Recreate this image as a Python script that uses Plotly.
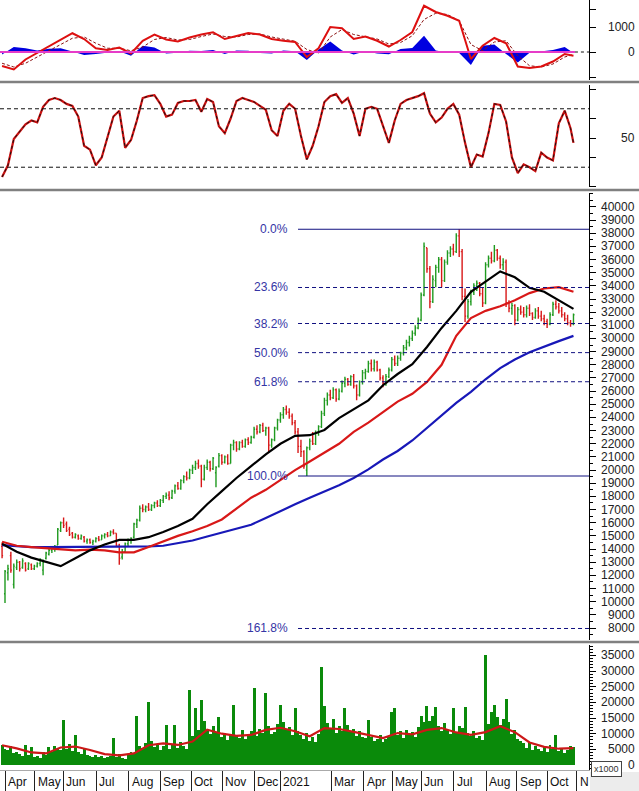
import plotly.graph_objects as go

# ---------------- data ----------------
month_labels = ["Apr", "May", "Jun", "Jul", "Aug", "Sep", "Oct", "Nov", "Dec", "2021",
                "Mar", "Apr", "May", "Jun", "Jul", "Aug", "Sep", "Oct", "N"]
month_start_bar = [1.0, 11.2, 20.8, 32.1, 43.3, 53.9, 64.5, 75.1, 86.0, 94.9,
                   112.3, 123.5, 133.1, 143.0, 154.2, 165.2, 175.7, 186.0, 196.2]

opens = [14200,10600,12200,13500,11300,12600,13000,12600,12900,12500,
         12800,12500,12700,12900,12400,13300,13600,13900,14100,14300,
         15400,16000,15900,15500,15200,14900,15000,14800,14900,14600,
         14700,14500,14600,14800,14700,15000,15100,15000,15300,15200,
         14300,13400,13800,14400,14700,14900,15900,16200,17100,17000,
         17200,17000,17300,17500,17300,17700,18000,18100,17900,18400,
         18800,18600,19200,19500,19400,20000,20200,20500,20300,19300,
         20200,20600,20100,19800,20300,21100,20600,21000,20500,21900,
         22100,21600,22100,21800,22300,22100,22500,23100,22900,23400,
         23000,23200,21900,22300,23200,23800,24200,24600,24400,24100,
         23600,22900,21800,21400,20000,21700,22200,22000,22800,23300,
         24300,25300,25700,25500,26100,25400,26000,26600,26900,26500,
         27100,26400,25700,26700,27400,27500,28100,27700,28200,27600,
         27000,26600,27100,27600,28400,28100,28500,28900,29300,29700,
         30000,30400,30800,31400,33300,36900,35300,32800,34400,35400,
         36000,34400,35800,36500,36800,36600,37800,36600,33200,31700,
         32800,33500,34000,34200,33400,32700,35600,36100,35900,36700,
         36100,35600,35800,32700,32300,32500,31400,32200,32000,31800,
         32300,31900,31600,32100,31700,31500,31300,31100,31800,32600,
         32400,32100,31800,31500,31200,31100]
highs = [14500,12400,12800,13800,12900,13200,13100,13300,13000,13000,
         12900,12800,13000,13300,13200,13800,14100,14200,14300,15600,
         16100,16400,16100,15700,15300,15200,15100,15100,15000,14800,
         14800,14700,14900,15000,15100,15200,15300,15400,15500,15200,
         14400,14000,14500,14800,14900,16000,16300,17300,17400,17300,
         17500,17400,17600,17700,17800,18100,18300,18400,18500,18900,
         19100,19300,19600,19900,20100,20400,20700,20800,20400,20400,
         20800,20700,21000,20300,21300,21200,21100,21200,22000,22300,
         22200,22200,22300,22400,22500,22600,23300,23400,23500,23600,
         23300,23300,22400,23300,23900,24400,24800,24900,24700,24300,
         23800,23200,22300,21500,21800,22400,22900,23000,23400,24500,
         25500,25900,26100,26300,26200,26200,26800,27100,27000,27200,
         27300,26500,26800,27600,27700,28300,28400,28400,28300,27700,
         27200,27300,27800,28600,28700,28700,29000,29500,29900,30200,
         30600,31000,31600,33500,37300,36900,35500,34800,35600,36200,
         36200,36000,36700,37000,37200,38000,38300,36800,33800,33000,
         33700,34200,34400,34300,33900,35800,36300,36600,37100,36800,
         36300,36100,36000,32900,32700,32600,32400,32500,32400,32500,
         32600,32000,32300,32400,32100,31800,31500,32000,32800,32900,
         32700,32400,32000,31800,31400,31900]
lows = [13300,9900,11600,12200,11000,12400,12300,12500,12300,12400,
        12400,12400,12600,12700,12000,13200,13500,13700,13800,14300,
        15300,15600,15300,15000,14800,14800,14700,14700,14500,14400,
        14400,14300,14500,14600,14700,14800,14900,15000,15100,14200,
        12800,13200,13700,14200,14400,14800,15600,16100,16800,16800,
        16900,16900,17100,17200,17200,17500,17800,17700,17800,18200,
        18500,18500,19000,19200,19300,19700,20000,20100,18700,19200,
        20000,19900,20000,18700,20200,20400,20500,20400,20500,21500,
        21400,21500,21700,21700,21900,22000,22400,22700,22800,22900,
        22600,21300,21700,22200,23000,23600,23900,24200,23900,23400,
        22700,21300,21000,20100,19550,21500,21900,21900,22600,23200,
        24100,24900,25300,25400,25200,25300,25900,26300,26400,26400,
        26200,25300,25600,26500,26900,27400,27500,27500,27500,26800,
        26300,26400,27000,27500,27900,27900,28300,28700,29100,29400,
        29800,30200,30700,31300,33200,35000,32300,32700,33900,35000,
        33900,34300,35600,36200,36300,36500,36200,32900,31250,31500,
        32500,33300,33600,33200,32400,32600,35400,35700,35800,35900,
        35300,35200,32400,32000,31800,31000,31300,31800,31600,31600,
        31700,31400,31500,31500,31300,31000,30800,31000,31700,32200,
        31900,31600,31300,31000,30900,31000]
closes = [13500,12300,12500,12400,12700,13000,12500,13100,12400,12900,
          12500,12700,12900,13200,13000,13700,13900,14100,14200,15500,
          16000,15800,15400,15100,14900,15100,14800,15000,14600,14700,
          14500,14600,14800,14700,15000,15100,15000,15300,15200,14300,
          13300,13800,14400,14700,14800,15900,16200,17100,17000,17200,
          17000,17300,17500,17300,17700,18000,18100,17900,18400,18800,
          18600,19200,19500,19400,20000,20200,20500,20300,19300,20200,
          20600,20100,20900,20200,21100,20600,21000,20500,21900,22100,
          21600,22100,21800,22300,22100,22500,23100,22900,23400,23000,
          23200,21900,22300,23200,23800,24200,24600,24400,24100,23600,
          22900,21800,21400,20300,21700,22200,22000,22800,23300,24300,
          25300,25700,25500,26100,25400,26000,26600,26900,26500,27100,
          26400,25700,26700,27400,27500,28100,27700,28200,27600,27000,
          26600,27100,27600,28400,28100,28500,28900,29300,29700,30000,
          30400,30800,31400,33300,37000,35300,32800,34500,35400,36000,
          34400,35800,36500,36800,36600,37800,36600,33200,31700,32800,
          33500,34000,34200,33400,32700,35600,36100,35900,36700,36100,
          35600,35800,32700,32300,32500,31400,32200,32000,31800,32300,
          31900,31600,32100,31700,31500,31300,31100,31800,32600,32400,
          32100,31800,31500,31200,31100,31800]
volume = [6500,5200,4800,6000,3800,4200,3500,2800,6400,3200,
          5600,2500,3000,2200,4100,3300,5600,4000,6200,5100,
          4800,14400,5200,6800,4500,9600,4200,3600,5100,3300,
          2900,2600,3100,2400,2800,2100,2500,3000,8600,2700,
          3500,2300,2000,3300,4200,3800,15500,6200,5400,7100,
          20100,7800,5900,6600,4800,6200,12800,5100,6300,12800,
          5400,7200,6000,5200,24000,9400,18200,11200,20800,14200,
          11000,9800,12500,10400,15300,8800,10200,7900,9600,19200,
          9400,8500,11200,8200,9900,10800,24600,9200,11500,10100,
          23000,12400,9800,10600,13200,19200,13800,11500,12200,9600,
          18200,11000,9500,8400,10300,7600,8800,7200,9800,31300,
          18900,13500,11800,14600,10200,12500,11000,18200,12800,10400,
          11600,9200,10800,9000,8600,14400,9100,7800,8300,9600,
          7400,8200,9000,16900,18200,9500,10800,8700,11300,9800,
          10400,8900,12000,15800,13800,18900,14200,15600,18500,12600,
          10800,13500,11200,9800,18200,10600,12400,11800,18500,10200,
          9400,11000,8600,9200,8100,35100,13200,16800,19200,15400,
          12800,14600,21100,13600,9800,11200,8400,7600,6900,5400,
          7200,4800,6200,5100,4600,5800,4200,6400,5000,9600,
          4600,5400,3900,4800,6100,5600]

# moving averages, read every 5 bars
ma_bars = list(range(0, 196, 5))
ma_black = [14400,13800,13350,13000,12700,13300,13900,14350,14700,14700,
            14900,15300,15750,16300,17400,18400,19400,20300,21200,22000,
            22600,22650,23050,23950,24600,25300,26450,27300,28050,29350,
            30800,32100,33550,34350,35100,34650,33850,33550,32900,32250]
ma_red = [14550,14250,14150,14050,13950,13900,13950,13900,13750,13750,
          14150,14600,15000,15350,15750,16250,17100,17900,18500,19250,
          20000,20650,21350,22000,22900,23600,24400,25200,25800,26700,
          28000,30200,31550,32100,32450,32900,33450,33800,33900,33550]
ma_blue = [14300,14200,14150,14150,14150,14150,14150,14150,14150,14150,
           14200,14250,14450,14650,14950,15250,15550,15850,16350,16900,
           17400,17900,18350,18850,19400,20050,20800,21450,22250,23200,
           24150,25100,25950,26900,27750,28400,28950,29400,29800,30200]
vol_ma = [6300,5300,4000,3700,5600,5900,4800,3500,3100,3700,
          6300,6900,6400,7500,11300,10000,9300,9600,11200,11900,
          10800,9200,11800,11500,10600,9500,8600,10200,9800,11200,
          11800,10400,9600,10500,12400,10500,7200,5800,5200,5400]

# MACD panel, read every 4 bars
macd_bars = list(range(0, 196, 4)) + [195]
macd = [-560,-700,-300,-40,200,480,750,520,150,80,
        180,-60,450,700,500,420,580,700,790,520,
        650,760,700,520,450,400,-200,150,1000,950,
        520,620,450,220,480,800,1850,1600,1450,1250,
        -280,250,560,350,-580,-640,-580,-380,-80,-150]
macd_signal = [-450,-600,-450,-200,50,300,550,600,350,150,
               150,50,200,500,580,480,500,620,720,620,
               600,700,720,600,500,430,100,-50,600,900,
               700,600,520,320,380,650,1300,1550,1500,1250,
               300,50,400,450,-150,-550,-600,-480,-200,-100]
macd_hist = [-100,200,150,60,130,150,20,-120,-80,-20,
             30,-150,250,180,-60,-30,50,40,80,-80,
             60,50,-40,-60,60,30,-320,100,420,60,
             -100,30,-60,-90,120,160,650,60,-20,-40,
             -520,250,300,-80,-420,-30,40,80,200,-40]

# stochastic panel, read every 2 bars
stoch_bars = list(range(0, 196, 2)) + [195]
stoch = [10,22,49,56,64,68,66,82,89,91,
         89,85,83,72,42,38,22,30,52,72,
         78,40,48,68,91,93,94,85,72,74,
         86,88,88,89,77,90,87,62,55,70,
         88,91,89,87,83,79,58,52,78,85,
         80,52,28,42,62,87,93,95,86,91,
         75,52,80,82,80,62,45,68,85,89,
         91,93,96,75,66,71,80,85,74,45,
         20,33,31,55,85,84,67,30,14,23,
         20,16,35,30,27,65,78,60,45]

# Fibonacci retracement
fib_high = 38300
fib_low = 19550
fib_anchor_bar = 101
fib_ratios = [0.0, 0.236, 0.382, 0.5, 0.618, 1.0, 1.618]
fib_labels = ["0.0%", "23.6%", "38.2%", "50.0%", "61.8%", "100.0%", "161.8%"]

price_ticks = list(range(8000, 40001, 1000))
vol_ticks = list(range(0, 35001, 5000))
macd_ticks = [-1000, 0, 1000, 1700]
macd_tick_labels = {0: "0", 1000: "1000"}
stoch_ticks = [0, 30, 50, 70, 100]
stoch_tick_labels = {50: "50"}

# ---------------- figure ----------------
bar_x = list(range(len(closes)))
X0, X1 = -0.706, 200.3
FONT = "Arial, Liberation Sans, sans-serif"
LABEL_X = 637 / 589

fig = go.Figure()

# MACD (y4)
fig.add_trace(go.Scatter(x=macd_bars, y=macd_hist, mode="lines", line=dict(width=0, color="#0000e0"),
                         fill="tozeroy", fillcolor="#0000e0", yaxis="y4", hoverinfo="skip"))
fig.add_trace(go.Scatter(x=macd_bars, y=macd_signal, mode="lines",
                         line=dict(color="#8a1010", width=1, dash="3px,2px"), yaxis="y4"))
fig.add_trace(go.Scatter(x=macd_bars, y=macd, mode="lines",
                         line=dict(color="#dd1010", width=2), yaxis="y4"))

# Stochastic (y3)
fig.add_trace(go.Scatter(x=stoch_bars, y=stoch, mode="lines",
                         line=dict(color="#cc1010", width=2.2), yaxis="y3"))
fig.add_trace(go.Scatter(x=stoch_bars, y=stoch, mode="lines",
                         line=dict(color="#111", width=1, dash="3px,3px"), yaxis="y3"))

# Price (y2)
fig.add_trace(go.Ohlc(x=bar_x, open=opens, high=highs, low=lows, close=closes, yaxis="y2",
                      increasing=dict(line=dict(color="#1f9a1f", width=1.4)),
                      decreasing=dict(line=dict(color="#d81818", width=1.4)),
                      tickwidth=0.35))
fig.add_trace(go.Scatter(x=ma_bars, y=ma_blue, mode="lines", line=dict(color="#1818b8", width=2.2), yaxis="y2"))
fig.add_trace(go.Scatter(x=ma_bars, y=ma_red, mode="lines", line=dict(color="#d81818", width=2.2), yaxis="y2"))
fig.add_trace(go.Scatter(x=ma_bars, y=ma_black, mode="lines", line=dict(color="#000000", width=2.2), yaxis="y2"))

# Volume (y)
fig.add_trace(go.Bar(x=bar_x, y=volume, marker=dict(color="#0a8a0a", line=dict(width=0)), yaxis="y"))
fig.add_trace(go.Scatter(x=ma_bars, y=vol_ma, mode="lines", line=dict(color="#cc1818", width=2.2), yaxis="y"))

shapes = []
annotations = []

# Fibonacci lines and labels
for r, lab in zip(fib_ratios, fib_labels):
    lvl = fib_high - r * (fib_high - fib_low)
    solid = r in (0.0, 1.0)
    shapes.append(dict(type="line", xref="x", yref="y2", x0=fib_anchor_bar, x1=X1, y0=lvl, y1=lvl,
                       line=dict(color="#101080", width=1, dash="solid" if solid else "4px,3px")))
    annotations.append(dict(x=fib_anchor_bar, y=lvl, xref="x", yref="y2", text=lab, showarrow=False,
                            xanchor="right", yanchor="middle", xshift=-8,
                            font=dict(family=FONT, size=12, color="#3535a5")))

# stochastic 80/20 lines
for lv in (80, 20):
    shapes.append(dict(type="line", xref="x", yref="y3", x0=X0, x1=X1, y0=lv, y1=lv,
                       line=dict(color="#111", width=1, dash="4px,3px")))

# MACD zero line
shapes.append(dict(type="line", xref="x", yref="y4", x0=X0, x1=195.5, y0=0, y1=0,
                   line=dict(color="#e63cc8", width=2)))
shapes.append(dict(type="line", xref="x", yref="y4", x0=195.5, x1=X1, y0=0, y1=0,
                   line=dict(color="#111", width=1, dash="3px,3px")))

# panel separators
for yp in (1 - 82 / 770, 1 - 190 / 770, 1 - 642 / 770):
    shapes.append(dict(type="line", xref="paper", yref="paper", x0=0, x1=639 / 589, y0=yp, y1=yp,
                       line=dict(color="#808080", width=2.5)))

# bottom-right corner grey box
shapes.append(dict(type="rect", xref="paper", yref="paper", x0=590 / 589, x1=640 / 589,
                   y0=-21 / 770, y1=-2 / 770, fillcolor="#ececec", line=dict(width=0), layer="below"))

# month labels
for lab, xb in zip(month_labels, month_start_bar):
    annotations.append(dict(x=xb, y=0, xref="x", yref="paper", text=lab, showarrow=False,
                            xanchor="left", yanchor="middle", xshift=1, yshift=-12,
                            font=dict(family=FONT, size=12, color="#111")))

# right-aligned y tick labels
def add_ylabels(vals, texts, yref):
    for v, t in zip(vals, texts):
        if t:
            annotations.append(dict(x=LABEL_X, y=v, xref="paper", yref=yref, text=t, showarrow=False,
                                    xanchor="right", yanchor="middle",
                                    font=dict(family=FONT, size=12, color="#222")))

add_ylabels(price_ticks, [str(v) for v in price_ticks], "y2")
add_ylabels(vol_ticks, [str(v) for v in vol_ticks], "y")
add_ylabels(macd_ticks, [macd_tick_labels.get(v, "") for v in macd_ticks], "y4")
add_ylabels(stoch_ticks, [stoch_tick_labels.get(v, "") for v in stoch_ticks], "y3")

annotations.append(dict(x=606 / 589, y=1 - 769 / 770, xref="paper", yref="paper", text="x1000",
                        showarrow=False, xanchor="center", yanchor="middle",
                        font=dict(family=FONT, size=9, color="#333"),
                        bordercolor="#444", borderwidth=1, borderpad=2, bgcolor="white"))

ycommon = dict(side="right", anchor="x", showgrid=False, zeroline=False, showline=True,
               linecolor="#000", linewidth=1, ticks="outside", ticklen=6, tickcolor="#000",
               showticklabels=False, fixedrange=True)

fig.update_layout(
    width=639, height=791,
    margin=dict(l=0, r=50, t=0, b=21),
    paper_bgcolor="white", plot_bgcolor="white",
    showlegend=False, bargap=0,
    shapes=shapes, annotations=annotations,
    xaxis=dict(domain=[0, 1], range=[X0, X1], anchor="y", showgrid=False, zeroline=False,
               tickmode="array", tickvals=month_start_bar, showticklabels=False,
               ticks="outside", ticklen=20, tickcolor="#222", tickwidth=1,
               showline=True, linecolor="#aaa", linewidth=1,
               rangeslider=dict(visible=False), fixedrange=True),
    yaxis=dict(domain=[0, 1 - 645 / 770], range=[-1600, 38340],
               tickmode="array", tickvals=vol_ticks,
               minor=dict(dtick=1000, tick0=0, ticks="outside", ticklen=3, tickcolor="#000"),
               **ycommon),
    yaxis2=dict(domain=[1 - 640 / 770, 1 - 193 / 770], range=[7088, 41055],
                tickmode="array", tickvals=price_ticks,
                minor=dict(dtick=500, tick0=0, ticks="outside", ticklen=3, tickcolor="#000"),
                **ycommon),
    yaxis3=dict(domain=[1 - 187 / 770, 1 - 85 / 770], range=[-0.3, 104.4],
                tickmode="array", tickvals=stoch_ticks, **ycommon),
    yaxis4=dict(domain=[1 - 80 / 770, 1], range=[-1120, 2080],
                tickmode="array", tickvals=macd_ticks, **ycommon),
)

fig.write_html("out.html")
